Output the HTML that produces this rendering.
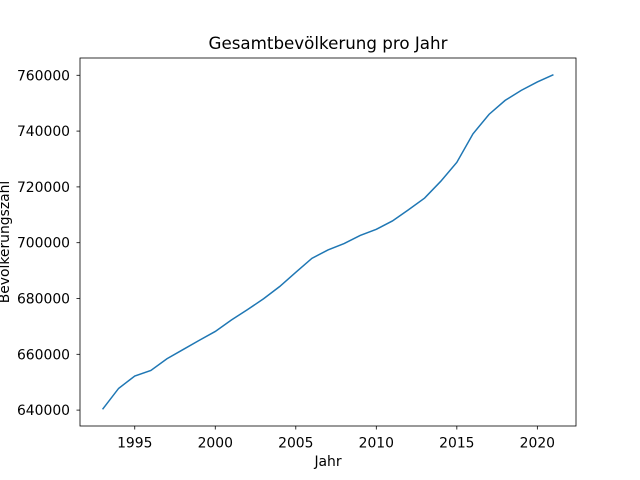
<!DOCTYPE html>
<html><head><meta charset="utf-8"><style>body{margin:0;background:#fff}svg{display:block;font-family:"DejaVu Sans","Liberation Sans",sans-serif}</style></head>
<body>
<svg id="c" width="640" height="480"></svg>
<script>
const years=[1993,1994,1995,1996,1997,1998,1999,2000,2001,2002,2003,2004,2005,2006,2007,2008,2009,2010,2011,2012,2013,2014,2015,2016,2017,2018,2019,2020,2021];
const population=[640300,647800,652200,654200,658400,661700,665000,668200,672300,676000,679900,684300,689400,694400,697400,699700,702600,704800,707800,711800,716000,722000,728800,739000,746000,751000,754600,757600,760200];
const xTicks=[1995,2000,2005,2010,2015,2020];
const yTicks=[640000,660000,680000,700000,720000,740000,760000];
const L=80,R=576,T=58,B=426;
const svg=document.getElementById('c');const NS='http://www.w3.org/2000/svg';
function mk(t,a,p){const e=document.createElementNS(NS,t);for(const k in a)e.setAttribute(k,a[k]);(p||svg).appendChild(e);return e;}
const x0=Math.min(...years),x1=Math.max(...years),xm=(x1-x0)*0.05;
const y0=Math.min(...population),y1=Math.max(...population),ym=(y1-y0)*0.05;
const X=v=>L+(v-(x0-xm))/((x1+xm)-(x0-xm))*(R-L);
const Y=v=>B-(v-(y0-ym))/((y1+ym)-(y0-ym))*(B-T);
let d=years.map((yr,i)=>(i?'L':'M')+X(yr).toFixed(2)+','+Y(population[i]).toFixed(2)).join('');
const line=mk('path',{d:d,fill:'none',stroke:'#1f77b4','stroke-width':1.5});


const frame=mk('rect',{x:L,y:T,width:R-L,height:B-T,fill:'none',stroke:'#000','stroke-width':0.8});


xTicks.forEach(v=>{const x=X(v);mk('line',{x1:x,x2:x,y1:B,y2:B+3.5,stroke:'#000','stroke-width':0.8});
const t=mk('text',{x:x,y:B+21.5,'text-anchor':'middle','font-size':13.9});t.textContent=v;

});
yTicks.forEach(v=>{const y=Y(v);mk('line',{x1:L-3.5,x2:L,y1:y,y2:y,stroke:'#000','stroke-width':0.8});
const t=mk('text',{x:L-10,y:y+5,'text-anchor':'end','font-size':13.9});t.textContent=v;

});
const ti=mk('text',{x:(L+R)/2,y:49,'text-anchor':'middle','font-size':16.7});ti.textContent='Gesamtbevölkerung pro Jahr';


const xl=mk('text',{x:(L+R)/2,y:466,'text-anchor':'middle','font-size':13.9});xl.textContent='Jahr';


const yl=mk('text',{x:9,y:(T+B)/2,'text-anchor':'middle','font-size':13.9,transform:'rotate(-90 9 '+(T+B)/2+')'});yl.textContent='Bevölkerungszahl';


</script>
</body></html>
